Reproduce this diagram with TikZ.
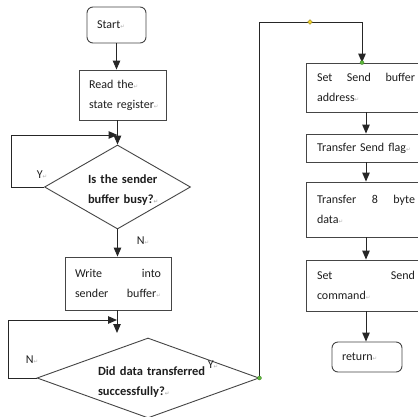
\documentclass[tikz,border=0pt]{standalone}
\usepackage{fontspec}
\setmainfont{Carlito}
\newfontfamily\markfont{DejaVu Sans}
\usetikzlibrary{arrows.meta,shapes.geometric}
\definecolor{linec}{HTML}{262626}
\definecolor{boxc}{HTML}{454545}
\definecolor{txt}{HTML}{1E1E1E}
\definecolor{dotgreen}{HTML}{5DB83A}
\definecolor{dotyellow}{HTML}{F2D22E}
% paragraph mark after a line of text
\newcommand\pmark{{\markfont\fontsize{5.5}{5.5}\selectfont\textcolor{gray!60}{↵}}}

\begin{document}
\begin{tikzpicture}[x=1pt,y=-1pt,
  font=\fontsize{12}{20}\selectfont,
  line/.style={draw=linec, line width=1pt},
  arr/.style={line, -{Triangle[length=9pt,width=7.5pt]}},
  box/.style={draw=boxc, line width=0.9pt, rectangle, inner xsep=10pt,
    inner ysep=0pt, align=left, text=txt},
  rbox/.style={box, rounded corners=6pt},
  rightbox/.style={box, inner xsep=11pt, minimum width=120pt, text width=98pt},
  decision/.style={draw=boxc, line width=0.9pt, diamond, inner sep=0pt},
  dtext/.style={align=left, text=txt, inner sep=0pt, font=\fontsize{12.5}{20}\selectfont\bfseries},
  lbl/.style={text=txt, inner sep=0pt},
  gdot/.style={circle, fill=dotgreen, draw=dotgreen!70!black, line width=0.3pt,
    inner sep=0pt, minimum size=4pt},
  ydot/.style={diamond, fill=dotyellow, draw=dotyellow!60!black, line width=0.3pt,
    inner sep=0pt, minimum size=5pt}
]
\useasboundingbox (0,0) rectangle (418,416);
\fill[white] (0,0) rectangle (418,416);
\clip (0,0) rectangle (418,416);

% left column
\node[rbox, minimum width=59pt, minimum height=36pt, text width=39pt] (start) at (116.5,25) {Start\pmark};
\node[box, minimum width=87pt, minimum height=50pt, text width=67pt] (read) at (122.5,95)
  {Read the\pmark\\\mbox{state register\pmark}};
\node[decision, minimum width=146pt, minimum height=84pt] (d1) at (117.5,187) {};
\node[dtext, text width=72pt] (d1t) at (124,190) {Is the sender\\buffer busy?\pmark};
\node[box, minimum width=106pt, minimum height=53pt, text width=86pt] (write) at (118,283.5)
  {Write\hfill into\\sender\hfill buffer\pmark};
\node[decision, minimum width=222pt, minimum height=80pt] (d2) at (148,378) {};
\node[dtext, text width=112pt] (d2t) at (154,382) {Did data transferred\\successfully?\pmark};

% right column
\node[rightbox, minimum height=49pt] (sa) at (366,87.5) {Set\hfill Send\hfill buffer\\address\pmark};
\node[rightbox, minimum height=28pt] (sf) at (366,148) {Transfer Send flag\pmark};
\node[rightbox, minimum height=55pt] (td) at (366,209.5) {Transfer\hfill 8\hfill byte\\data\pmark};
\node[rightbox, minimum height=51pt] (sc) at (366,285.5) {Set\hfill Send\\command\pmark};
\node[rbox, minimum width=70pt, minimum height=30pt, text width=50pt] (ret) at (367,357) {return\pmark};

% helper points
\coordinate (lp1) at (11,135);
\coordinate (m2) at (117,333);
\coordinate (lp2) at (8,320);
\coordinate (turn) at (362,22);

% main flow
\draw[arr] (start.south) -- (start.south |- read.north);
\draw[arr] (d1.north |- read.south) -- (d1.north);
\draw[arr] (d1.south) -- (d1.south |- write.north);
\draw[arr] (write.south -| m2) -- (m2);
\draw[arr] (d1.west) -| (lp1) -- (lp1 -| d1.north);
\draw[arr] (d2.west) -| (lp2) -- (lp2 -| m2);
\draw[arr] (d2.east) |- (turn) -- (turn |- sa.north);
\draw[arr] (sa.south) -- (sf.north);
\draw[arr] (sf.south) -- (td.north);
\draw[arr] (td.south) -- (sc.north);
\draw[arr] (sc.south) -- (sc.south |- ret.north);

% branch labels
\node[lbl] (y1) at (42,175) {Y\pmark};
\node[lbl] (n1) at (143,241) {N\pmark};
\node[lbl] (n2) at (32,360) {N\pmark};
\node[lbl] (y2) at (213,365) {Y\pmark};

% connector markers
\node[gdot] (g1) at (d2.east) {};
\node[gdot] (g2) at (turn |- sa.north) {};
\node[ydot] (ym) at (310,22) {};
\end{tikzpicture}
\end{document}
